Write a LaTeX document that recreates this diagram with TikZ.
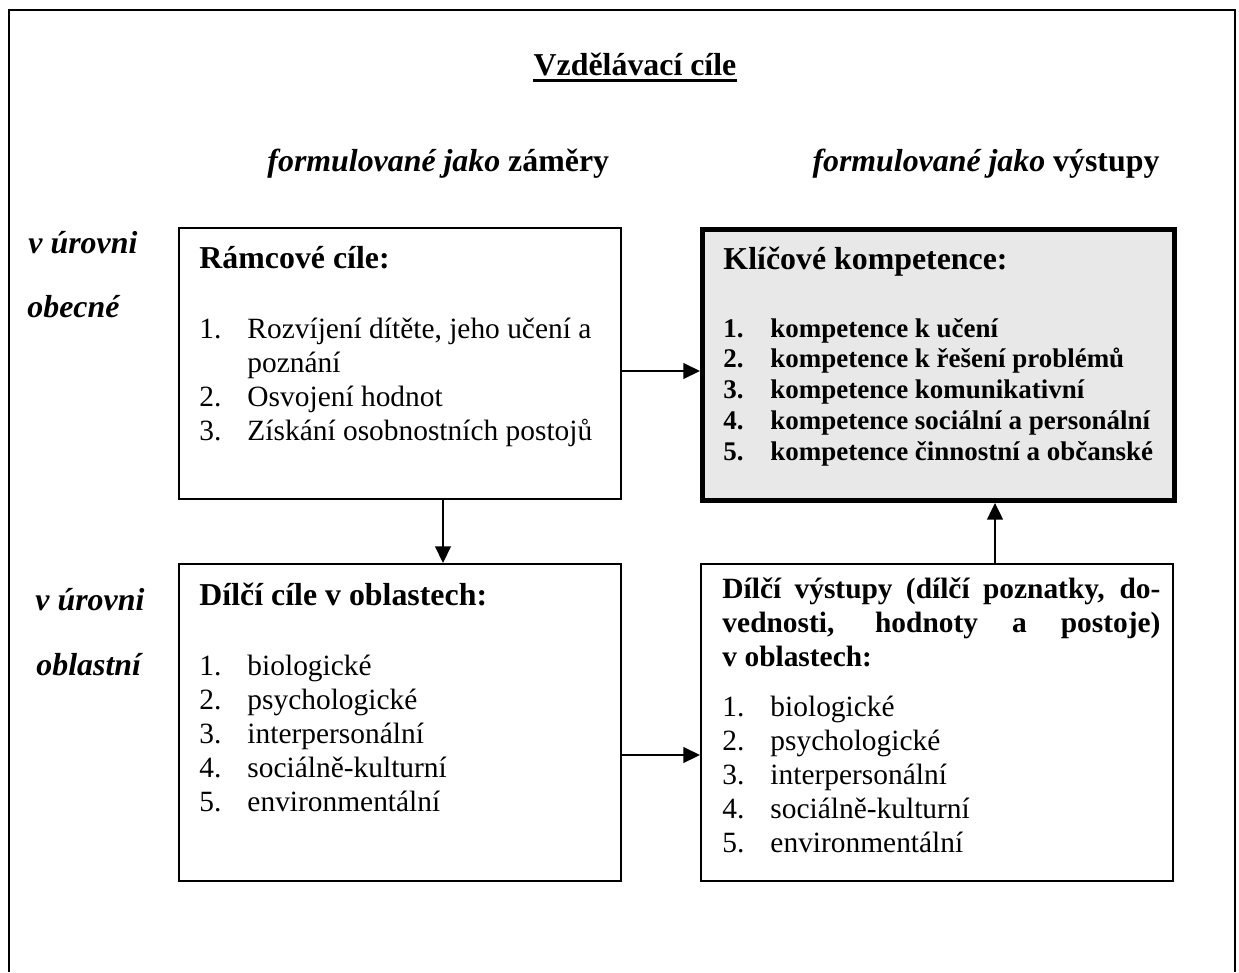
\documentclass[tikz,border=0pt]{standalone}
\usepackage{fontspec}
\setmainfont{Liberation Serif}
\usepackage{array}
\usetikzlibrary{arrows.meta}
\definecolor{KeyFill}{HTML}{E8E8E8}
\newlength{\pxu}
\setlength{\pxu}{0.408pt}
\tikzset{
    frame/.style={draw=black, line width=0.8pt},
    box/.style={rectangle, draw=black, line width=0.8pt, inner sep=0pt, anchor=north west},
    keybox/.style={box, line width=2pt, fill=KeyFill},
    txt/.style={anchor=base west, inner sep=0pt, text=black},
    head/.style={txt, font=\bfseries\fontsize{13}{15}\selectfont},
    level/.style={txt, font=\bfseries\itshape\fontsize{13}{15}\selectfont},
    body/.style={txt, font=\fontsize{12}{13.9}\selectfont},
    arrow/.style={-{Triangle[length=6.8pt, width=6.4pt]}, line width=0.8pt, color=black},
}

\begin{document}
\begin{tikzpicture}[x=\pxu, y=-\pxu]
    \useasboundingbox (0,0) rectangle (1239,972);
    % Rámeček
    \draw[frame] (9,972) -- (9,10) -- (1235,10) -- (1235,972);

    % Nadpis
    \node[head, anchor=base] (nadpis) at (635,75) {Vzdělávací cíle};
    \draw[line width=1.2pt] ([yshift=-2.2pt]nadpis.base west) -- ([yshift=-2.2pt]nadpis.base east);
    \node[head] (zamery) at (267,171) {\textit{formulované jako} záměry};
    \node[head] (vystupyhead) at (812,171) {\textit{formulované jako} výstupy};

    % Úrovně
    \node[level] (obecna1) at (28,253) {v úrovni};
    \node[level] (obecna2) at (27,317) {obecné};
    \node[level] (oblast1) at (35,610) {v úrovni};
    \node[level] (oblast2) at (36,675) {oblastní};

    % Rámcové cíle
    \node[box, minimum width=442\pxu, minimum height=271\pxu] (ramcove) at (178,227) {};
    \node[head] (ramcovehead) at (199,268) {Rámcové cíle:};
    \node[body] (ramcovelist) at (199,338) {\begin{tabular}[t]{@{}p{48\pxu}@{}l@{}}
        1. & Rozvíjení dítěte, jeho učení a \\
           & poznání \\
        2. & Osvojení hodnot \\
        3. & Získání osobnostních postojů
    \end{tabular}};

    % Klíčové kompetence
    \node[keybox, minimum width=472\pxu, minimum height=271\pxu] (klicove) at (700,227) {};
    \node[head] (klicovehead) at (723,269) {Klíčové kompetence:};
    \node[txt, font=\bfseries\fontsize{11}{12.55}\selectfont] (klicovelist) at (723,337) {\begin{tabular}[t]{@{}p{47\pxu}@{}l@{}}
        1. & kompetence k učení \\
        2. & kompetence k řešení problémů \\
        3. & kompetence komunikativní \\
        4. & kompetence sociální a personální \\
        5. & kompetence činnostní a občanské
    \end{tabular}};

    % Dílčí cíle
    \node[box, minimum width=442\pxu, minimum height=317\pxu] (dilcicile) at (178,563) {};
    \node[head] (dilcicilehead) at (199,605) {Dílčí cíle v oblastech:};
    \node[body] (dilcicilelist) at (199,675) {\begin{tabular}[t]{@{}p{48\pxu}@{}l@{}}
        1. & biologické \\
        2. & psychologické \\
        3. & interpersonální \\
        4. & sociálně-kulturní \\
        5. & environmentální
    \end{tabular}};

    % Dílčí výstupy
    \node[box, minimum width=472\pxu, minimum height=317\pxu] (vystupy) at (700,563) {};
    \node[body, font=\bfseries\fontsize{12}{13.9}\selectfont] (vystupyhead2) at (722,598) {\begin{tabular}[t]{@{}l@{}}
        \makebox[438\pxu][s]{Dílčí výstupy (dílčí poznatky, do-} \\
        \makebox[438\pxu][s]{vednosti, hodnoty a postoje)} \\
        v oblastech:
    \end{tabular}};
    \node[body] (vystupylist) at (722,716) {\begin{tabular}[t]{@{}p{48\pxu}@{}l@{}}
        1. & biologické \\
        2. & psychologické \\
        3. & interpersonální \\
        4. & sociálně-kulturní \\
        5. & environmentální
    \end{tabular}};

    % Šipky
    \coordinate (radekA) at (0,371);
    \coordinate (radekB) at (0,755);
    \coordinate (sloupecA) at (443,0);
    \coordinate (sloupecD) at (995,0);
    \draw[arrow] (ramcove.east |- radekA) -- (klicove.west |- radekA);
    \draw[arrow] (dilcicile.east |- radekB) -- (vystupy.west |- radekB);
    \draw[arrow] (ramcove.south -| sloupecA) -- (dilcicile.north -| sloupecA);
    \draw[arrow] (vystupy.north -| sloupecD) -- (klicove.south -| sloupecD);
\end{tikzpicture}
\end{document}
